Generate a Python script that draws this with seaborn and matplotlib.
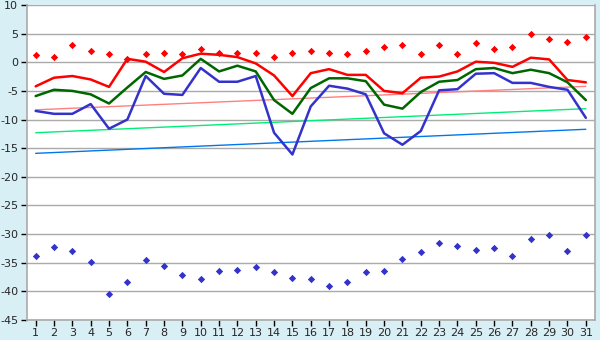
import matplotlib
matplotlib.use("Agg")
import matplotlib.pyplot as plt
import seaborn as sns
import pandas as pd
import numpy as np

days = list(range(1, 32))

max_record = [1.2, 1.0, 3.0, 1.9, 1.4, 0.6, 1.4, 1.6, 1.4, 2.3, 1.6, 1.6, 1.7, 1.0, 1.7,
              2.0, 1.7, 1.5, 1.9, 2.6, 3.0, 1.5, 3.0, 1.5, 3.3, 2.4, 2.6, 5.0, 4.1, 3.6, 4.5]
max_temp = [-4.2, -2.7, -2.4, -3.0, -4.3, 0.6, 0.1, -1.7, 0.7, 1.5, 1.3, 0.9, -0.2, -2.3, -5.9,
            -1.9, -1.2, -2.2, -2.2, -5.0, -5.4, -2.7, -2.5, -1.6, 0.1, -0.1, -0.8, 0.8, 0.5, -3.1, -3.5]
mean_temp = [-5.9, -4.8, -5.0, -5.6, -7.2, -4.4, -1.7, -2.9, -2.3, 0.6, -1.6, -0.6, -1.6, -6.6, -9.0,
             -4.5, -2.8, -2.8, -3.3, -7.4, -8.1, -5.2, -3.4, -3.1, -1.2, -1.0, -1.9, -1.3, -1.9, -3.5, -6.6]
min_temp = [-8.5, -9.0, -9.0, -7.3, -11.6, -10.0, -2.4, -5.5, -5.7, -1.0, -3.4, -3.4, -2.4, -12.3, -16.1,
            -7.7, -4.1, -4.6, -5.6, -12.4, -14.4, -12.0, -4.9, -4.7, -2.0, -1.9, -3.6, -3.6, -4.3, -4.8, -9.7]
min_record = [-33.9, -32.3, -32.9, -34.8, -40.5, -38.3, -34.6, -35.5, -37.1, -37.9, -36.4, -36.2, -35.7, -36.7, -37.6,
              -37.9, -39.1, -38.3, -36.7, -36.4, -34.4, -33.2, -31.6, -32.0, -32.7, -32.5, -33.9, -30.8, -30.2, -32.9, -30.2]

trend_days = [1, 31]
trend_max = [-8.3, -4.2]
trend_mean = [-12.3, -8.1]
trend_min = [-15.9, -11.7]

y_ticks = list(range(-45, 11, 5))

sns.set_style("white")
plt.rcParams['font.family'] = ['DejaVu Sans']

fig = plt.figure(figsize=(6, 3.4), dpi=100)
fig.patch.set_facecolor("#d9eff6")
ax = fig.add_axes([26.5 / 600, 1 - 320 / 340, (595 - 26.5) / 600, (320 - 5) / 340])
ax.set_facecolor("white")

for yv in y_ticks:
    ax.axhline(yv, color="#aaaaaa", lw=1.0, zorder=0)

tdf = pd.DataFrame({"day": trend_days, "tmax": trend_max, "tmean": trend_mean, "tmin": trend_min})
sns.lineplot(data=tdf, x="day", y="tmax", ax=ax, color="#ff8080", lw=1.0)
sns.lineplot(data=tdf, x="day", y="tmean", ax=ax, color="#00ee77", lw=1.0)
sns.lineplot(data=tdf, x="day", y="tmin", ax=ax, color="#0077ee", lw=1.0)

df = pd.DataFrame({"day": days, "max_record": max_record, "max_temp": max_temp,
                   "mean_temp": mean_temp, "min_temp": min_temp, "min_record": min_record})
sns.lineplot(data=df, x="day", y="max_temp", ax=ax, color="#ff0000", lw=1.8)
sns.lineplot(data=df, x="day", y="mean_temp", ax=ax, color="#006600", lw=1.8)
sns.lineplot(data=df, x="day", y="min_temp", ax=ax, color="#3333cc", lw=1.8)
sns.scatterplot(data=df, x="day", y="max_record", ax=ax, color="#ff0000", marker="D", s=14, linewidth=0)
sns.scatterplot(data=df, x="day", y="min_record", ax=ax, color="#3333cc", marker="D", s=14, linewidth=0)

ax.set_xlim(0.5, 31.5)
ax.set_ylim(-45, 10)
ax.set_xticks(days)
ax.set_xticklabels([str(d) for d in days])
ax.set_yticks(y_ticks)
ax.set_yticklabels([str(v) for v in y_ticks])
ax.set_xlabel("")
ax.set_ylabel("")
ax.tick_params(axis="both", labelsize=8, length=4, width=1, color="black", pad=2, direction="out")
ax.tick_params(axis="x", bottom=True)
ax.tick_params(axis="y", left=True)
for s in ["left", "bottom", "right"]:
    ax.spines[s].set_visible(True)
    ax.spines[s].set_color("#aaaaaa")
    ax.spines[s].set_linewidth(1.2)
ax.spines["top"].set_visible(False)

fig.savefig("out.png", dpi=100, facecolor=fig.get_facecolor())
